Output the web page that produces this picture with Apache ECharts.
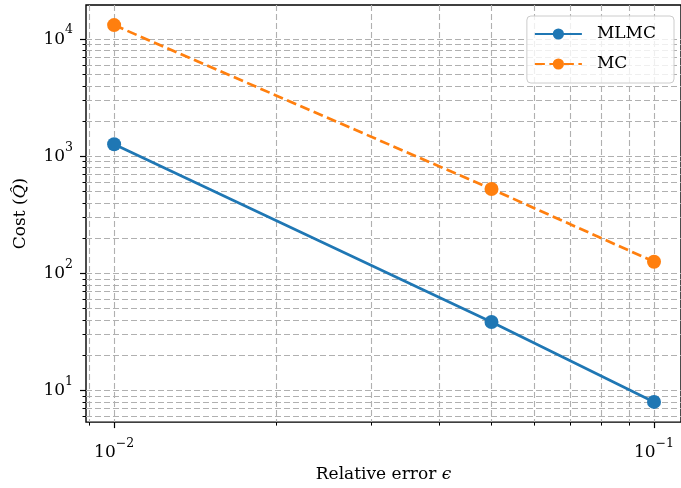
<!DOCTYPE html>
<html>
<head>
<meta charset="utf-8">
<script src="https://cdn.jsdelivr.net/npm/echarts@6/dist/echarts.min.js"></script>
<style>
html,body{margin:0;padding:0;background:#fff;}
#c{width:681px;height:488px;}
</style>
</head>
<body>
<div id="c"></div>
<script>
// ---- data ----
const epsilon = [0.01, 0.05, 0.1];
const costMLMC = [1270, 38.5, 8.0];
const costMC = [13200, 526, 126];
const xMajorTicks = [0.01, 0.1];
const xMinorTicks = [0.009, 0.02, 0.03, 0.04, 0.05, 0.06, 0.07, 0.08, 0.09];
const yMajorTicks = [10, 100, 1000, 10000];
const yMinorTicks = [6, 7, 8, 9, 20, 30, 40, 50, 60, 70, 80, 90, 200, 300, 400, 500, 600, 700, 800, 900, 2000, 3000, 4000, 5000, 6000, 7000, 8000, 9000];
const xRange = [0.00887, 0.1122];
const yRange = [5.38, 19600];

const FONT = 'DejaVu Serif';
const gridLine = {show: true, lineStyle: {color: '#b0b0b0', width: 1.1, type: [6, 3]}};
const supRich = {
  m: {fontFamily: FONT, fontSize: 17, color: '#000', lineHeight: 31},
  s: {fontFamily: FONT, fontSize: 12.5, color: '#000', lineHeight: 13, verticalAlign: 'top'}
};
function powLabel(v) {
  const e = Math.round(Math.log10(v));
  return '{m|10}{s|' + (e < 0 ? '\u2212' + (-e) : e) + '}';
}
const nameRich = {
  n: {fontFamily: FONT, fontSize: 17, color: '#000'},
  i: {fontFamily: FONT, fontStyle: 'italic', fontSize: 17, color: '#000'}
};

const chart = echarts.init(document.getElementById('c'), null, {renderer: 'canvas'});
const option = {
  animation: false,
  backgroundColor: '#fff',
  grid: {left: 86, top: 5, right: -3, bottom: 65, show: true, borderColor: '#000', borderWidth: 1.4, backgroundColor: 'transparent'},
  legend: {
    orient: 'vertical', right: 7, top: 16,
    padding: [8, 18, 9, 7], itemWidth: 47, itemHeight: 14, itemGap: 10,
    backgroundColor: 'rgba(255,255,255,0.8)', borderColor: '#cccccc', borderWidth: 1, borderRadius: 4,
    textStyle: {fontFamily: FONT, fontSize: 17, lineHeight: 20, color: '#000', padding: [0, 0, 0, 10]},
    data: ['MLMC', 'MC']
  },
  xAxis: [
    {
      type: 'log', min: xRange[0], max: xRange[1], position: 'bottom',
      name: '{n|Relative error }{i|\u03f5}', nameLocation: 'middle', nameGap: 38,
      nameTextStyle: {rich: nameRich},
      axisLine: {show: false, onZero: false},
      axisTick: {show: true, customValues: xMajorTicks, length: 6, lineStyle: {color: '#000', width: 1.2}},
      axisLabel: {customValues: xMajorTicks, formatter: powLabel, rich: supRich, margin: 15},
      splitLine: gridLine
    },
    {
      type: 'log', min: xRange[0], max: xRange[1], position: 'bottom',
      axisLine: {show: false, onZero: false},
      axisTick: {show: true, customValues: xMinorTicks, length: 3.5, lineStyle: {color: '#000', width: 1}},
      axisLabel: {show: false},
      splitLine: gridLine
    }
  ],
  yAxis: [
    {
      type: 'log', min: yRange[0], max: yRange[1], position: 'left',
      name: '{n|Cost (}{i|Q\u0302}{n|)}', nameLocation: 'middle', nameGap: 57, nameRotate: 90,
      nameTextStyle: {rich: nameRich},
      axisLine: {show: false, onZero: false},
      axisTick: {show: true, customValues: yMajorTicks, length: 6, lineStyle: {color: '#000', width: 1.2}},
      axisLabel: {customValues: yMajorTicks, formatter: powLabel, rich: supRich, margin: 13},
      splitLine: gridLine
    },
    {
      type: 'log', min: yRange[0], max: yRange[1], position: 'left', offset: 0,
      axisLine: {show: false, onZero: false},
      axisTick: {show: true, customValues: yMinorTicks, length: 3.5, lineStyle: {color: '#000', width: 1}},
      axisLabel: {show: false},
      splitLine: gridLine
    }
  ],
  series: [
    {
      name: 'MLMC', type: 'line', xAxisIndex: 0, yAxisIndex: 0,
      data: epsilon.map((x, i) => [x, costMLMC[i]]),
      symbol: 'circle', symbolSize: 14, showSymbol: true,
      itemStyle: {color: '#1f77b4'},
      lineStyle: {color: '#1f77b4', width: 2.7}
    },
    {
      name: 'MC', type: 'line', xAxisIndex: 0, yAxisIndex: 0,
      data: epsilon.map((x, i) => [x, costMC[i]]),
      symbol: 'circle', symbolSize: 14, showSymbol: true,
      itemStyle: {color: '#ff7f0e'},
      lineStyle: {color: '#ff7f0e', width: 2.7, type: [10, 4.5]}
    }
  ]
};
chart.setOption(option);
</script>
</body>
</html>
